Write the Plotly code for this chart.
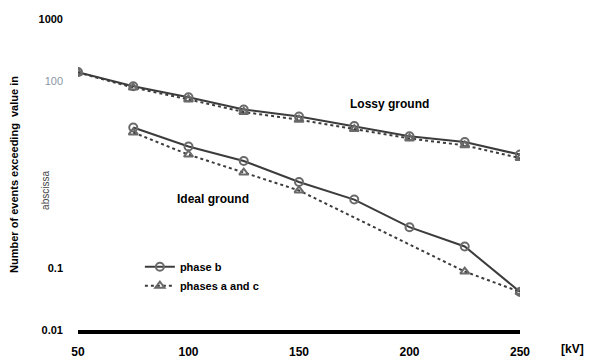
import plotly.graph_objects as go

# kV values
kv = [50, 75, 100, 125, 150, 175, 200, 225, 250]
kv_ideal_b = [75, 100, 125, 150, 175, 200, 225, 250]
kv_ideal_ac = [75, 100, 125, 150, 225, 250]

lossy_b = [140, 83, 55, 35, 27, 19, 13, 10.5, 6.6]
lossy_ac = [138, 79, 51, 32, 24, 17, 12, 9.3, 5.8]
ideal_b = [18, 8.9, 5.2, 2.4, 1.25, 0.45, 0.22, 0.041]
ideal_ac = [15, 6.6, 3.4, 1.75, 0.087, 0.041]

x_ticks = [50, 100, 150, 200, 250]
y_ticks = [0.01, 0.1, 100, 1000]
y_ticktext = ["<b>0.01</b>", "<b>0.1</b>", "<span style='color:#8a96a3'>100</span>", "<b>1000</b>"]

line_col = "#3c3c3c"
mk_col = "#6a6a6a"

fig = go.Figure()
fig.add_trace(go.Scatter(x=kv, y=lossy_b, mode="lines+markers", showlegend=False,
                         line=dict(color=line_col, width=2),
                         marker=dict(symbol="circle-open", size=8, color=mk_col, line=dict(width=2))))
fig.add_trace(go.Scatter(x=kv, y=lossy_ac, mode="lines+markers", showlegend=False,
                         line=dict(color=line_col, width=2, dash="dot"),
                         marker=dict(symbol="triangle-up-open", size=8, color=mk_col, line=dict(width=2))))
fig.add_trace(go.Scatter(x=kv_ideal_b, y=ideal_b, mode="lines+markers", name="<b>phase b</b>",
                         line=dict(color=line_col, width=2),
                         marker=dict(symbol="circle-open", size=8, color=mk_col, line=dict(width=2))))
fig.add_trace(go.Scatter(x=kv_ideal_ac, y=ideal_ac, mode="lines+markers", name="<b>phases a and c</b>",
                         line=dict(color=line_col, width=2, dash="dot"),
                         marker=dict(symbol="triangle-up-open", size=8, color=mk_col, line=dict(width=2))))

fig.update_layout(
    width=588, height=351,
    margin=dict(l=70, r=76, t=11, b=29),
    paper_bgcolor="white", plot_bgcolor="white",
    font=dict(family="Liberation Sans, Arial, sans-serif", size=11, color="black"),
    showlegend=True,
    legend=dict(x=0.14, y=0.25, xanchor="left", yanchor="top", bgcolor="rgba(0,0,0,0)",
                font=dict(size=11, color="black"), tracegroupgap=0, itemwidth=30),
    xaxis=dict(range=[50, 250], tickvals=x_ticks,
               ticktext=["<b>%d</b>" % v for v in x_ticks],
               showgrid=False, zeroline=False, showline=True, linecolor="black", linewidth=4,
               ticks="", tickfont=dict(size=12), ticklabelstandoff=8, automargin=False),
    yaxis=dict(type="log", range=[-2, 3], tickvals=y_ticks, ticktext=y_ticktext,
               showgrid=False, zeroline=False, showline=False, ticks="",
               tickfont=dict(size=11), ticklabelstandoff=14, automargin=False,
               title=dict(text="<b>Number of events exceeding  value in</b>", font=dict(size=11), standoff=19)),
    annotations=[
        dict(x=191, y=1.63, xref="x", yref="y", text="<b>Lossy ground</b>", showarrow=False,
             font=dict(size=12)),
        dict(x=111, y=0.10, xref="x", yref="y", text="<b>Ideal ground</b>", showarrow=False,
             font=dict(size=12)),
        dict(x=1.118, y=-0.062, xref="paper", yref="paper", xanchor="center", yanchor="middle",
             text="<b>[kV]</b>", showarrow=False, font=dict(size=12)),
        dict(x=-0.075, y=0.45, xref="paper", yref="paper", xanchor="center", yanchor="middle",
             text="abscissa", showarrow=False, textangle=-90, font=dict(size=10, color="#444")),
    ],
)

fig.write_html("out.html")
